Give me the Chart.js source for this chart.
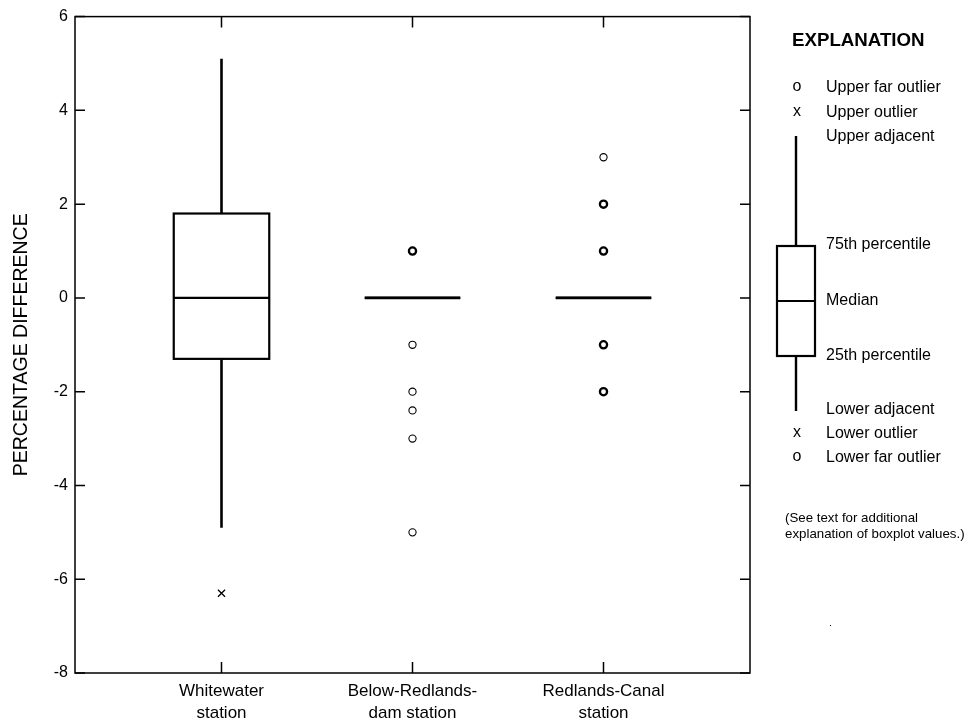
<!DOCTYPE html>
<html>
<head>
<meta charset="utf-8">
<script src="https://cdn.jsdelivr.net/npm/chart.js@4.4.1/dist/chart.umd.min.js"></script>
<style>
html, body { margin: 0; padding: 0; background: #fff; }
#wrap { width: 965px; height: 726px; }
</style>
</head>
<body>
<div id="wrap"><canvas id="boxChart" width="965" height="726"></canvas></div>
<script>
// station boxplot values (percentage difference)
const stations = [['Whitewater', 'station'], ['Below-Redlands-', 'dam station'], ['Redlands-Canal', 'station']];
const stationPos = [1, 2, 3];
const lowerAdjacent = [-4.9, 0, 0];
const q25 = [-1.3, 0, 0];
const medians = [0, 0, 0];
const q75 = [1.8, 0, 0];
const upperAdjacent = [5.1, 0, 0];
const outliers = [[-6.3], [], []];
const farOutliers = [[], [1, 1, -1, -2, -2.4, -3, -5], [3, 2, 2, 1, 1, -1, -1, -2, -2]];
const yTicks = [-8, -6, -4, -2, 0, 2, 4, 6];

const FONT = "'Liberation Sans', Arial, Helvetica, sans-serif";
const boxHalf = 0.25;

// group repeated far outliers so stacked ones get a heavier ring
const farPts = [];
farOutliers.forEach((vals, i) => {
    const seen = {};
    vals.forEach(v => { seen[v] = (seen[v] || 0) + 1; });
    Object.keys(seen).forEach(k => farPts.push({x: stationPos[i], y: parseFloat(k), n: seen[k]}));
});
const outPts = [];
outliers.forEach((vals, i) => vals.forEach(v => outPts.push({x: stationPos[i], y: v})));

const boxPlugin = {
    id: 'boxes',
    beforeDatasetsDraw(chart) {
        const ctx = chart.ctx;
        const x = chart.scales.x, y = chart.scales.y;
        ctx.save();
        ctx.strokeStyle = '#000';
        stationPos.forEach((p, i) => {
            const cx = x.getPixelForValue(p);
            const x0 = x.getPixelForValue(p - boxHalf);
            const x1 = x.getPixelForValue(p + boxHalf);
            const yLo = y.getPixelForValue(lowerAdjacent[i]);
            const y1 = y.getPixelForValue(q25[i]);
            const yMed = y.getPixelForValue(medians[i]);
            const y3 = y.getPixelForValue(q75[i]);
            const yHi = y.getPixelForValue(upperAdjacent[i]);
            ctx.lineWidth = 2.6;
            ctx.beginPath();
            ctx.moveTo(cx, y3); ctx.lineTo(cx, yHi);
            ctx.moveTo(cx, y1); ctx.lineTo(cx, yLo);
            ctx.stroke();
            ctx.lineWidth = 2.2;
            ctx.strokeRect(x0, y3, x1 - x0, y1 - y3);
            ctx.lineWidth = (q75[i] === q25[i]) ? 2.8 : 2.2;
            ctx.beginPath();
            ctx.moveTo(x0, yMed); ctx.lineTo(x1, yMed);
            ctx.stroke();
        });
        ctx.restore();
    }
};

const framePlugin = {
    id: 'frame',
    afterDraw(chart) {
        const ctx = chart.ctx;
        const a = chart.chartArea;
        const x = chart.scales.x, y = chart.scales.y;
        ctx.save();
        ctx.strokeStyle = '#000';
        ctx.lineWidth = 1.5;
        ctx.strokeRect(a.left, a.top, a.right - a.left, a.bottom - a.top);
        ctx.beginPath();
        y.ticks.forEach(t => {
            const py = y.getPixelForValue(t.value);
            ctx.moveTo(a.left, py); ctx.lineTo(a.left + 10, py);
            ctx.moveTo(a.right, py); ctx.lineTo(a.right - 10, py);
        });
        x.ticks.forEach(t => {
            const px = x.getPixelForValue(t.value);
            ctx.moveTo(px, a.bottom); ctx.lineTo(px, a.bottom - 11);
            ctx.moveTo(px, a.top); ctx.lineTo(px, a.top + 11);
        });
        ctx.stroke();
        ctx.restore();
    }
};

// the EXPLANATION key on the right
const keyPlugin = {
    id: 'explanationKey',
    afterDraw(chart) {
        const ctx = chart.ctx;
        ctx.save();
        ctx.fillStyle = '#000';
        ctx.strokeStyle = '#000';
        ctx.textBaseline = 'middle';
        ctx.textAlign = 'left';
        ctx.font = 'bold 18.7px ' + FONT;
        ctx.fillText('EXPLANATION', 792, 41);

        ctx.font = '16px ' + FONT;
        const tx = 826;
        ctx.fillText('Upper far outlier', tx, 88);
        ctx.fillText('Upper outlier', tx, 113);
        ctx.fillText('Upper adjacent', tx, 137);
        ctx.fillText('75th percentile', tx, 245);
        ctx.fillText('Median', tx, 301);
        ctx.fillText('25th percentile', tx, 356);
        ctx.fillText('Lower adjacent', tx, 410);
        ctx.fillText('Lower outlier', tx, 434);
        ctx.fillText('Lower far outlier', tx, 458);

        ctx.textAlign = 'center';
        ctx.fillText('o', 797, 87);
        ctx.fillText('x', 797, 112);
        ctx.fillText('x', 797, 433);
        ctx.fillText('o', 797, 457);

        ctx.lineWidth = 2.4;
        ctx.beginPath();
        ctx.moveTo(796, 136); ctx.lineTo(796, 246);
        ctx.moveTo(796, 356); ctx.lineTo(796, 411);
        ctx.stroke();
        ctx.lineWidth = 2.2;
        ctx.strokeRect(777, 246, 38, 110);
        ctx.beginPath();
        ctx.moveTo(777, 301); ctx.lineTo(815, 301);
        ctx.stroke();

        ctx.textAlign = 'left';
        ctx.font = '13.3px ' + FONT;
        ctx.fillText('(See text for additional', 785, 518);
        ctx.fillText('explanation of boxplot values.)', 785, 534);
        ctx.fillRect(830, 625, 1, 1);
        ctx.restore();
    }
};

const ctx = document.getElementById('boxChart').getContext('2d');
const config = {
    type: 'scatter',
    data: {
        datasets: [{
            label: 'Far outlier',
            data: farPts,
            pointStyle: 'circle',
            pointRadius: 3.6,
            pointBorderColor: '#000',
            pointBackgroundColor: 'rgba(0,0,0,0)',
            pointBorderWidth: c => (c.raw && c.raw.n > 1) ? 2.3 : 1.1
        }, {
            label: 'Outlier',
            data: outPts,
            pointStyle: 'crossRot',
            pointRadius: 5,
            pointBorderColor: '#000',
            pointBorderWidth: 1.3
        }]
    },
    options: {
        responsive: false,
        animation: false,
        layout: {padding: {top: 15, right: 215, bottom: 0, left: 0}},
        plugins: {
            legend: {display: false},
            tooltip: {enabled: false}
        },
        scales: {
            x: {
                type: 'linear',
                min: 0.233,
                max: 3.767,
                grid: {display: false, drawTicks: false},
                border: {display: false},
                afterBuildTicks: s => { s.ticks = stationPos.map(v => ({value: v})); },
                afterFit: s => { s.height = 53; },
                ticks: {
                    autoSkip: false,
                    maxRotation: 0,
                    padding: 8,
                    color: '#000',
                    font: {family: FONT, size: 17, lineHeight: 1.25},
                    callback: v => stations[stationPos.indexOf(v)]
                }
            },
            y: {
                min: -8,
                max: 6,
                grid: {display: false, drawTicks: false},
                border: {display: false},
                afterBuildTicks: s => { s.ticks = yTicks.map(v => ({value: v})); },
                afterFit: s => { s.width = 75; },
                ticks: {
                    padding: 7,
                    color: '#000',
                    font: {family: FONT, size: 16}
                },
                title: {
                    display: true,
                    text: 'PERCENTAGE DIFFERENCE',
                    color: '#000',
                    font: {family: FONT, size: 19.5},
                    padding: {top: 10, bottom: 0}
                }
            }
        }
    },
    plugins: [boxPlugin, framePlugin, keyPlugin]
};
const boxChart = new Chart(ctx, config);
</script>
</body>
</html>
